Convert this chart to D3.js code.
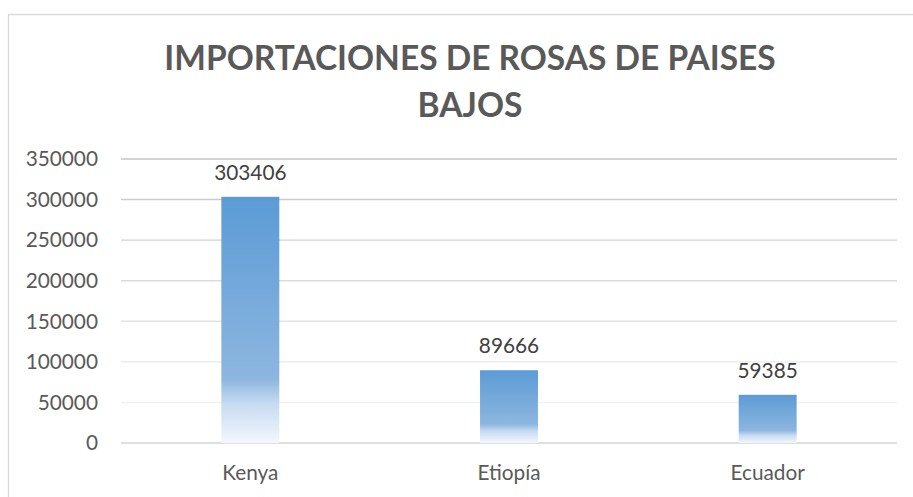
<!DOCTYPE html>
<html>
<head>
<meta charset="utf-8">
<script src="https://cdn.jsdelivr.net/npm/d3@7"></script>
<style>
  body { margin: 0; background: #fff; }
  svg { display: block; }
</style>
</head>
<body>
<div id="vis"></div>
<script>
const categories = ["Kenya", "Etiopía", "Ecuador"];
const values = [303406, 89666, 59385];
const yTicks = [0, 50000, 100000, 150000, 200000, 250000, 300000, 350000];
const titleLines = ["IMPORTACIONES DE ROSAS DE PAISES", "BAJOS"];

const W = 913, H = 497;
const font = "Lato, 'Open Sans', sans-serif";

var svg = d3.select("#vis")
            .append("svg")
            .attr("width", W)
            .attr("height", H);

// chart border (right and bottom run off the picture)
svg.append("path")
    .attr("d", "M8.5," + (H + 5) + "V14.5H" + (W + 5))
    .attr("fill", "none")
    .attr("stroke", "#d9d9d9")
    .attr("stroke-width", 1.3);

// gradient like excel's light gradient fill
var grad = svg.append("defs").append("linearGradient")
    .attr("id", "barGrad")
    .attr("x1", 0).attr("y1", 0).attr("x2", 0).attr("y2", 1);
[[0, "#5b9bd5"], [0.74, "#8db6e0"], [0.84, "#c6dbf1"], [1, "#f3f7fd"]].forEach(d => {
    grad.append("stop").attr("offset", d[0]).attr("stop-color", d[1]);
});

var x = d3.scaleBand()
    .domain(categories)
    .range([121, 897])
    .paddingInner(0.776)
    .paddingOuter(0.388);

var y = d3.scaleLinear()
    .domain([0, 350000])
    .range([443, 159]);

// gridlines fade from top to bottom
var gridColor = d3.scaleLinear()
    .domain([50000, 350000])
    .range(["#f2f2f2", "#c4c4c4"]);

svg.append("g")
    .selectAll("line")
    .data(yTicks)
    .join("line")
    .attr("x1", 121)
    .attr("x2", 897)
    .attr("y1", d => y(d))
    .attr("y2", d => y(d))
    .attr("stroke", d => d === 0 ? "#d4d4d4" : gridColor(d))
    .attr("stroke-width", 1.4);

// y axis labels
svg.append("g")
    .selectAll("text")
    .data(yTicks)
    .join("text")
    .attr("x", 98)
    .attr("y", d => y(d))
    .attr("dy", "0.35em")
    .attr("text-anchor", "end")
    .style("font-family", font)
    .style("font-size", "20.8px")
    .attr("fill", "#595959")
    .text(d => d);

// bars
svg.append("g")
    .selectAll("rect")
    .data(values)
    .join("rect")
    .attr("x", (d, i) => x(categories[i]))
    .attr("width", x.bandwidth())
    .attr("y", d => y(d))
    .attr("height", d => y(0) - y(d))
    .attr("fill", "url(#barGrad)");

// value labels
svg.append("g")
    .selectAll("text")
    .data(values)
    .join("text")
    .attr("x", (d, i) => x(categories[i]) + x.bandwidth() / 2)
    .attr("y", d => y(d) - 17)
    .attr("text-anchor", "middle")
    .style("font-family", font)
    .style("font-size", "20.8px")
    .attr("fill", "#404040")
    .text(d => d);

// category labels
svg.append("g")
    .selectAll("text")
    .data(categories)
    .join("text")
    .attr("x", d => x(d) + x.bandwidth() / 2)
    .attr("y", 480)
    .attr("text-anchor", "middle")
    .style("font-family", font)
    .style("font-size", "20.8px")
    .attr("fill", "#595959")
    .text(d => d);

// title
svg.append("g")
    .selectAll("text")
    .data(titleLines)
    .join("text")
    .attr("x", 470)
    .attr("y", (d, i) => 70 + i * 47)
    .attr("text-anchor", "middle")
    .style("font-family", font)
    .style("font-size", "33.5px")
    .style("font-weight", "bold")
    .attr("fill", "#595959")
    .text(d => d);
</script>
</body>
</html>
